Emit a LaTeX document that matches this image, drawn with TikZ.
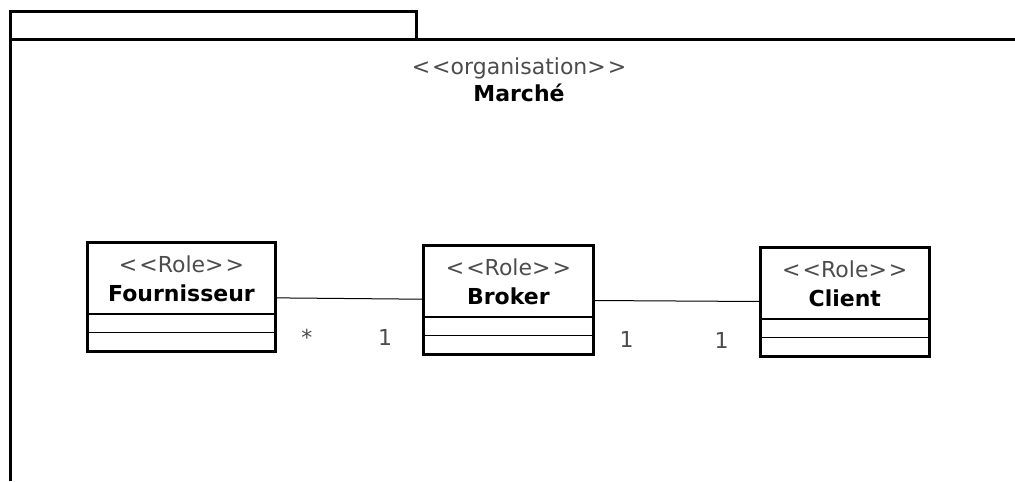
\documentclass[tikz,border=0pt]{standalone}
\usepackage{fontspec}
\setmainfont{DejaVu Sans}
\usetikzlibrary{positioning,shapes.multipart}
\definecolor{stereogray}{gray}{0.3}
\newcommand{\stereo}[1]{\textcolor{stereogray}{\textless\kern1pt\textless#1\textgreater\kern1pt\textgreater}}
\newcommand{\roletext}[1]{\rule{0pt}{14pt}\stereo{Role}\\\textbf{#1}\rule[-6pt]{0pt}{6pt}}

\begin{document}
\begin{tikzpicture}[
    x=0.5pt, y=-0.5pt,
    frame/.style={line width=1.5pt, line join=miter},
    role/.style={rectangle split, rectangle split parts=3, draw, line width=0.7pt,
      minimum width=84pt, inner xsep=2pt, inner ysep=0pt, align=center,
      font=\fontsize{11}{14.5}\selectfont,
      rectangle split empty part height=8.5pt, rectangle split empty part depth=0pt,
      append after command={\pgfextra{\draw[line width=1.5pt] (\tikzlastnode.north west) rectangle (\tikzlastnode.south east);}}},
    title/.style={align=center, font=\fontsize{11}{13.5}\selectfont},
    assoc/.style={line width=0.5pt},
    mult/.style={anchor=base, yshift=-23.5pt, font=\fontsize{11}{12}\selectfont, text=stereogray}
]
    \useasboundingbox (0,0) rectangle (1015,481);

    % Package frame
    \draw [frame] (10,481) -- (10,12) -- (416,12) -- (416,40);
    \draw [frame] (10,40) -- (1015,40);
    \node [title] (market) at (519,80) {\stereo{organisation}\\\textbf{Marché}};

    % Roles
    \node [role, minimum width=93.5pt] (fourn) at (181.5,297) {\roletext{Fournisseur}\nodepart{two}\nodepart{three}};
    \node [role, right=74pt of fourn, yshift=-1.5pt] (broker) {\roletext{Broker}\nodepart{two}\nodepart{three}};
    \node [role, right=83.5pt of broker, yshift=-1pt] (client) {\roletext{Client}\nodepart{two}\nodepart{three}};

    % Associations
    \draw [assoc] (fourn) -- (broker) node [mult, pos=.21] {*} node [mult, pos=.74] {1};
    \draw [assoc] (broker) -- (client) node [mult, pos=.2] {1} node [mult, pos=.77] {1};
\end{tikzpicture}
\end{document}
